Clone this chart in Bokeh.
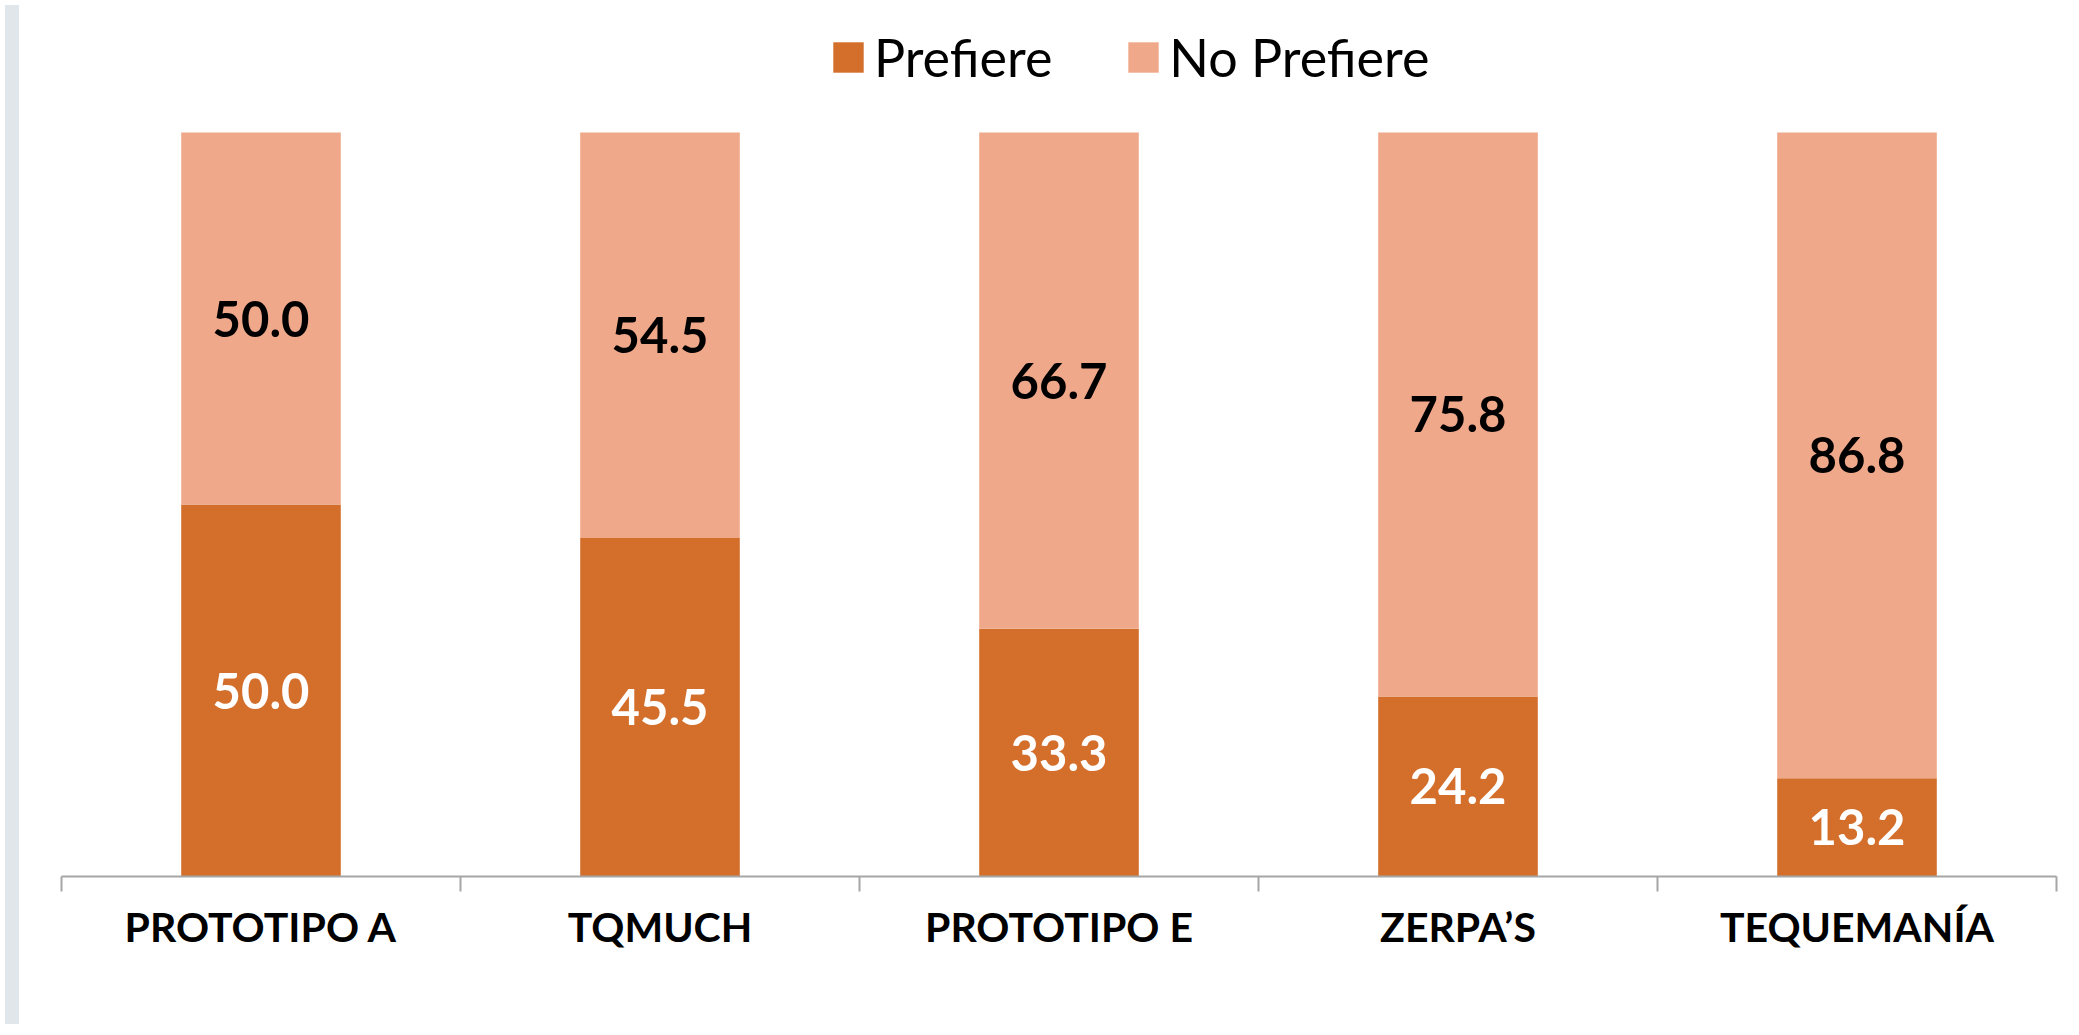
from bokeh.plotting import figure
from bokeh.models import Range1d, FixedTicker, Legend, LegendItem, ColumnDataSource, Div
from bokeh.layouts import row
from bokeh.embed import file_html
from bokeh.resources import INLINE
from bokeh.core.properties import value

# ---- data ----
categories = ["PROTOTIPO A", "TQMUCH", "PROTOTIPO E", "ZERPA\u2019S", "TEQUEMAN\u00cdA"]
prefiere = [50.0, 45.5, 33.3, 24.2, 13.2]
no_prefiere = [50.0, 54.5, 66.7, 75.8, 86.8]
series_names = ["Prefiere", "No Prefiere"]
series_colors = ["#D36E2B", "#F0A88A"]
label_colors = ["white", "black"]

FONT = "Lato"
n = len(categories)
xs = [i + 0.5 for i in range(n)]

# ---- layout geometry (pixels) ----
FIG_W, FIG_H = 2049, 1019
BORDER_TOP, BORDER_BOTTOM = 10, 143
BAR_PX = 744                      # pixel height of a 100 % bar
frame_h = FIG_H - BORDER_TOP - BORDER_BOTTOM
y_end = 100 * frame_h / BAR_PX    # leaves room for the legend inside the frame

src = ColumnDataSource(dict(
    x=xs,
    Prefiere=prefiere,
    **{"No Prefiere": no_prefiere},
))

p = figure(
    width=FIG_W, height=FIG_H,
    x_range=Range1d(0, n), y_range=Range1d(0, y_end),
    output_backend="svg", toolbar_location=None,
    y_axis_location=None,
    min_border_left=37, min_border_right=17,
    min_border_top=BORDER_TOP, min_border_bottom=BORDER_BOTTOM,
)
p.outline_line_color = None
p.xgrid.visible = False
p.ygrid.visible = False
p.background_fill_color = "white"
p.border_fill_color = "white"

renderers = p.vbar_stack(series_names, x="x", width=0.4, source=src,
                         color=series_colors, line_color=None)

# value labels, centred in each segment
pref_mid = [v / 2 for v in prefiere]
nop_mid = [a + b / 2 for a, b in zip(prefiere, no_prefiere)]
lab_src = ColumnDataSource(dict(
    x=xs + xs,
    y=pref_mid + nop_mid,
    t=[f"{v:.1f}" for v in prefiere] + [f"{v:.1f}" for v in no_prefiere],
    c=[label_colors[0]] * n + [label_colors[1]] * n,
))
p.text(x="x", y="y", text="t", source=lab_src, text_color="c",
       text_font=value(FONT), text_font_style="bold", text_font_size="49px",
       text_align="center", text_baseline="middle")

# x axis: labels at centres, ticks at category boundaries
ax = p.xaxis[0]
ax.ticker = FixedTicker(ticks=xs, minor_ticks=list(range(n + 1)))
ax.major_label_overrides = {x: c for x, c in zip(xs, categories)}
ax.axis_line_color = "#A6A6A6"
ax.axis_line_width = 2
ax.major_tick_out = 0
ax.major_tick_in = 0
ax.minor_tick_out = 15
ax.minor_tick_in = 0
ax.minor_tick_line_color = "#A6A6A6"
ax.minor_tick_line_width = 2
ax.major_label_standoff = 10
ax.major_label_text_font = FONT
ax.major_label_text_font_style = "bold"
ax.major_label_text_font_size = "41px"
ax.major_label_text_color = "black"

legend = Legend(
    items=[LegendItem(label=name, renderers=[r]) for name, r in zip(series_names, renderers)],
    orientation="horizontal", location=(768, 788),
    glyph_width=38, glyph_height=38, label_standoff=7, spacing=72,
    padding=0, margin=0, border_line_color=None, background_fill_alpha=0,
    label_text_font=FONT, label_text_font_size="52px", label_text_color="black",
)
p.add_layout(legend, "center")

spacer = Div(width=14, height=FIG_H, styles={"background-color": "#E1E6EA"})
layout = row(spacer, p)

open("out.html", "w").write(file_html(layout, INLINE))
